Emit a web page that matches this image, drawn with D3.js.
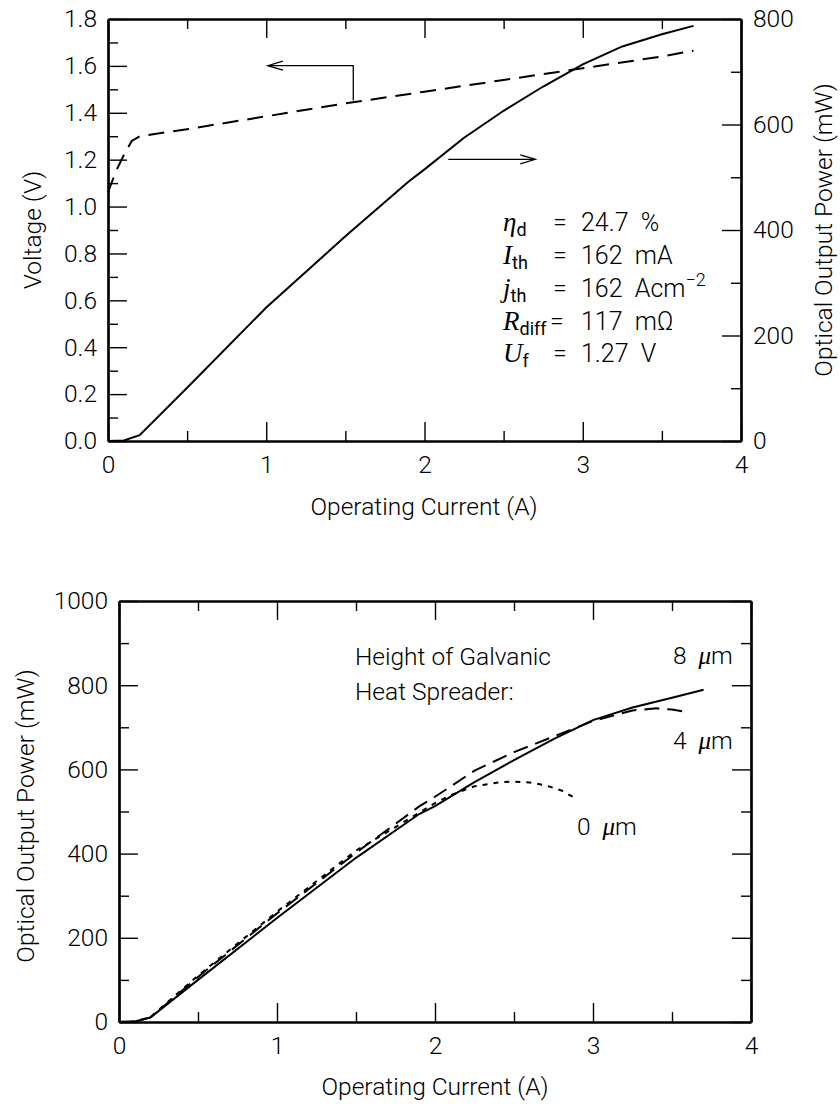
<!DOCTYPE html>
<html>
<head>
<meta charset="utf-8">
<script src="https://cdn.jsdelivr.net/npm/d3@7"></script>
<style>
body { margin: 0; background: #fff; }
text { fill: #000; }
</style>
</head>
<body>
<div id="graph"></div>
<script>
// top chart: voltage (left axis) and power (right axis) vs current
var currentV = [0, 0.05, 0.1, 0.15, 0.2, 0.5, 1.0, 1.5, 2.0, 2.5, 3.0, 3.5, 3.7];
var voltage = [1.06, 1.15, 1.22, 1.28, 1.30, 1.33, 1.385, 1.44, 1.49, 1.54, 1.59, 1.64, 1.665];
var currentP = [0, 0.1, 0.2, 0.5, 1.0, 1.5, 1.9, 2.0, 2.25, 2.5, 2.75, 3.0, 3.25, 3.5, 3.7];
var power = [0, 1, 11, 101, 253, 388, 492, 515, 575, 626, 672, 714, 748, 771, 787];

// bottom chart: power vs current for three heat spreader heights
var current8 = [0, 0.1, 0.2, 0.5, 1.0, 1.5, 1.9, 2.0, 2.25, 2.5, 2.75, 3.0, 3.25, 3.5, 3.7];
var power8 = [0, 1, 11, 100, 247, 390, 494, 513, 570, 622, 672, 717, 747, 770, 789];
var current4 = [0, 0.1, 0.2, 0.5, 1.0, 1.5, 1.9, 2.0, 2.25, 2.5, 2.75, 3.0, 3.25, 3.4, 3.5, 3.6];
var power4 = [0, 1, 11, 107, 258, 402, 512, 535, 597, 641, 678, 715, 740, 745, 742, 736];
var current0 = [0, 0.1, 0.2, 0.5, 1.0, 1.5, 1.75, 2.0, 2.1, 2.25, 2.4, 2.5, 2.6, 2.7, 2.8, 2.9];
var power0 = [0, 1, 12, 110, 262, 407, 463, 520, 539, 560, 569, 571, 569, 562, 550, 529];

var xTicks = [0, 1, 2, 3, 4];
var xMinor = [0.5, 1.5, 2.5, 3.5];
var voltTicks = [0, 0.2, 0.4, 0.6, 0.8, 1.0, 1.2, 1.4, 1.6, 1.8];
var voltMinor = [0.1, 0.3, 0.5, 0.7, 0.9, 1.1, 1.3, 1.5, 1.7];
var powTicksTop = [0, 200, 400, 600, 800];
var powMinorTop = [100, 300, 500, 700];
var powTicksBottom = [0, 200, 400, 600, 800, 1000];
var powMinorBottom = [100, 300, 500, 700, 900];

var sans = "Roboto, 'Liberation Sans', sans-serif";
var serif = "'Liberation Serif', 'DejaVu Serif', serif";

var width = 840;
var height = 1104;

var svg = d3.select('#graph')
    .append('svg')
    .attr('width', width)
    .attr('height', height);

var x1 = d3.scaleLinear().domain([0, 4]).range([108, 741]);
var yV = d3.scaleLinear().domain([0, 1.8]).range([441, 19]);
var yP1 = d3.scaleLinear().domain([0, 800]).range([441, 19]);

var x2 = d3.scaleLinear().domain([0, 4]).range([119, 751]);
var yP2 = d3.scaleLinear().domain([0, 1000]).range([1022, 601]);

function drawAxis(axis, tx, ty, labels) {
    var g = svg.append("g")
        .attr("transform", "translate(" + tx + "," + ty + ")")
        .call(axis);
    g.select(".domain").attr("stroke-width", 2.2);
    g.selectAll(".tick line").attr("stroke-width", 1.4);
    g.selectAll("text")
        .attr("font-family", sans)
        .attr("font-weight", 300)
        .attr("font-size", 24.5)
        .attr("fill", "#000");
    if (!labels) g.selectAll("text").remove();
    return g;
}

function frame(x, yL, yR, leftTicks, leftMinor, rightTicks, rightMinor, leftFmt, rightLabels) {
    var x0 = x.range()[0], xE = x.range()[1];
    var yB = yL.range()[0], yT = yL.range()[1];
    // bottom
    drawAxis(d3.axisBottom(x).tickValues(xTicks).tickSize(-19).tickSizeOuter(0).tickPadding(15).tickFormat(d3.format("d")), 0, yB, true);
    drawAxis(d3.axisBottom(x).tickValues(xMinor).tickSize(-10).tickSizeOuter(0), 0, yB, false);
    // top
    drawAxis(d3.axisTop(x).tickValues(xTicks).tickSize(-19).tickSizeOuter(0), 0, yT, false);
    drawAxis(d3.axisTop(x).tickValues(xMinor).tickSize(-10).tickSizeOuter(0), 0, yT, false);
    // left
    drawAxis(d3.axisLeft(yL).tickValues(leftTicks).tickSize(-19).tickSizeOuter(0).tickPadding(11).tickFormat(leftFmt), x0, 0, true);
    drawAxis(d3.axisLeft(yL).tickValues(leftMinor).tickSize(-10).tickSizeOuter(0), x0, 0, false);
    // right
    drawAxis(d3.axisRight(yR).tickValues(rightTicks).tickSize(-19).tickSizeOuter(0).tickPadding(12).tickFormat(d3.format("d")), xE, 0, rightLabels);
    drawAxis(d3.axisRight(yR).tickValues(rightMinor).tickSize(-10).tickSizeOuter(0), xE, 0, false);
}

frame(x1, yV, yP1, voltTicks, voltMinor, powTicksTop, powMinorTop, d3.format(".1f"), true);
frame(x2, yP2, yP2, powTicksBottom, powMinorBottom, powTicksBottom, powMinorBottom, d3.format("d"), false);

function label(txt, x, y, rotate) {
    svg.append("text")
        .attr("transform", "translate(" + x + "," + y + ")" + (rotate ? " rotate(-90)" : ""))
        .attr("text-anchor", "middle")
        .attr("font-family", sans)
        .attr("font-weight", 300)
        .attr("font-size", 24.5)
        .text(txt);
}

label("Operating Current (A)", 424, 515, false);
label("Voltage (V)", 41, 230, true);
label("Optical Output Power (mW)", 832, 230, true);
label("Operating Current (A)", 435, 1095, false);
label("Optical Output Power (mW)", 34, 816, true);

function curve(xs, ys, sx, sy, dash) {
    var line = d3.line()
        .x(function(d) { return sx(d[0]); })
        .y(function(d) { return sy(d[1]); });
    svg.append("path")
        .datum(d3.zip(xs, ys))
        .attr("d", line)
        .attr("fill", "none")
        .attr("stroke", "#000")
        .attr("stroke-width", 2)
        .attr("stroke-dasharray", dash);
}

curve(currentV, voltage, x1, yV, "16,9");
curve(currentP, power, x1, yP1, null);

curve(current8, power8, x2, yP2, null);
curve(current4, power4, x2, yP2, "15,8");
curve(current0, power0, x2, yP2, "5,6");

// arrows pointing to the axes
function arrow(points, sx, sy, dir) {
    var p = points.map(function(d) { return [sx(d[0]), sy(d[1])]; });
    svg.append("path")
        .attr("d", d3.line()(p))
        .attr("fill", "none")
        .attr("stroke", "#000")
        .attr("stroke-width", 1.3);
    var tip = p[p.length - 1];
    svg.append("path")
        .attr("d", d3.line()([[tip[0] - dir * 15, tip[1] - 4.5], tip, [tip[0] - dir * 15, tip[1] + 4.5]]))
        .attr("fill", "none")
        .attr("stroke", "#000")
        .attr("stroke-width", 1.3);
}

arrow([[1.55, 1.452], [1.55, 1.601], [1.01, 1.601]], x1, yV, -1);
arrow([[2.15, 534], [2.70, 534]], x1, yP1, 1);

// parameter block
var params = [
    { sym: "\u03B7", sub: "d", val: "24.7 %" },
    { sym: "I", sub: "th", val: "162 mA" },
    { sym: "j", sub: "th", val: "162 Acm", sup: "\u22122" },
    { sym: "R", sub: "diff", val: "117 m\u03A9" },
    { sym: "U", sub: "f", val: "1.27 V" }
];
var rowBase = [231, 263.5, 296.5, 329.5, 362];

params.forEach(function(p, i) {
    var t = svg.append("text")
        .attr("x", 503)
        .attr("y", rowBase[i])
        .attr("font-size", 27);
    t.append("tspan")
        .attr("font-family", serif)
        .attr("font-style", "italic")
        .text(p.sym);
    t.append("tspan")
        .attr("font-family", sans)
        .attr("font-size", 18)
        .attr("dy", 5)
        .text(p.sub);
    svg.append("text")
        .attr("x", p.sub == "diff" ? 550 : 553)
        .attr("y", rowBase[i])
        .attr("font-family", sans)
        .attr("font-weight", 300)
        .attr("font-size", 25)
        .text("=");
    var v = svg.append("text")
        .attr("x", 581)
        .attr("y", rowBase[i])
        .attr("font-family", sans)
        .attr("font-weight", 300)
        .attr("font-size", 25)
        .text(p.val.replace(" ", "\u00A0\u00A0"));
    if (p.sup) {
        v.append("tspan")
            .attr("font-size", 18)
            .attr("dy", -11)
            .text(p.sup);
    }
});

// bottom chart annotations
function plainText(txt, x, y) {
    svg.append("text")
        .attr("x", x).attr("y", y)
        .attr("font-family", sans)
        .attr("font-weight", 300)
        .attr("font-size", 24.5)
        .text(txt);
}
plainText("Height of Galvanic", 355, 665);
plainText("Heat Spreader:", 355, 700);

function micro(num, x, y) {
    var t = svg.append("text")
        .attr("x", x).attr("y", y)
        .attr("font-size", 24.5);
    t.append("tspan").attr("font-family", sans).attr("font-weight", 300).text(num + "\u00A0\u00A0");
    t.append("tspan").attr("font-family", serif).attr("font-style", "italic").attr("font-size", 25).text("\u03BC");
    t.append("tspan").attr("font-family", sans).attr("font-weight", 300).text("m");
}
micro("8", 673, 664);
micro("4", 673, 749);
micro("0", 577, 835);
</script>
</body>
</html>
